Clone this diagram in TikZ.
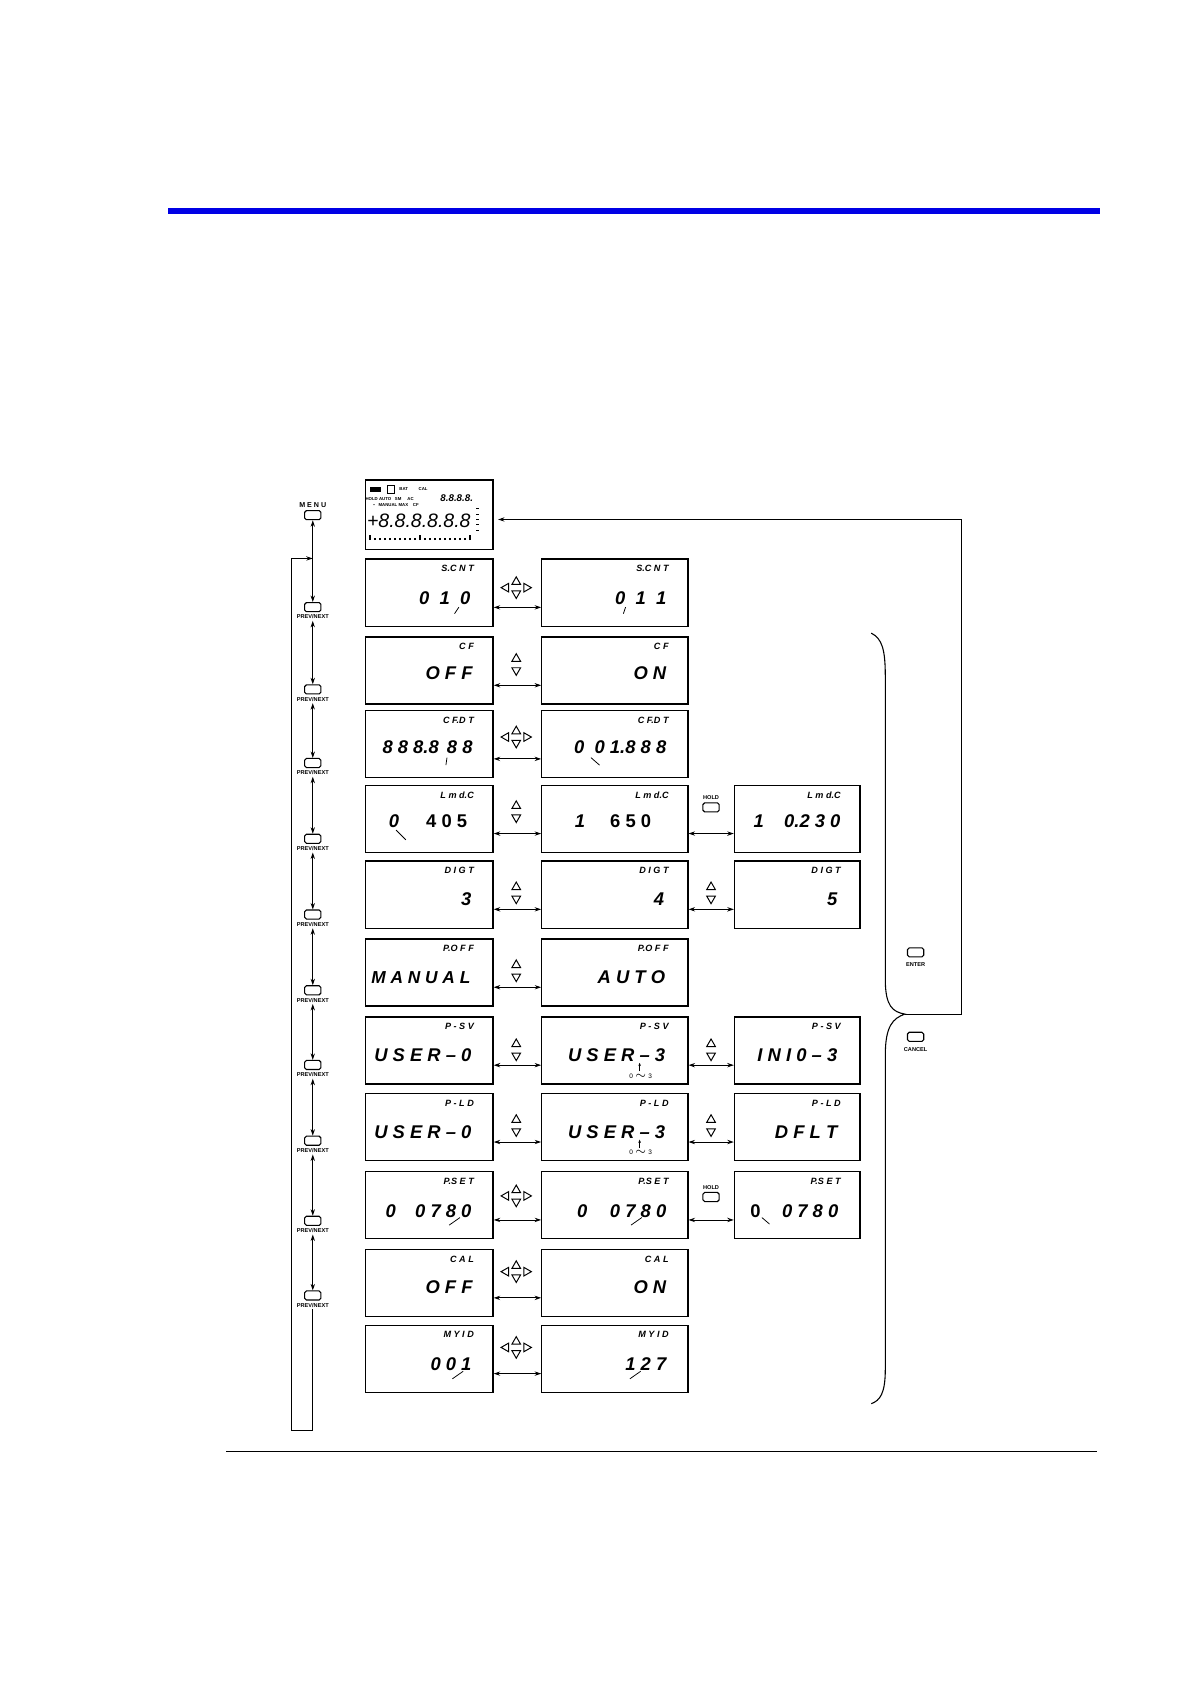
\documentclass[tikz,border=0pt]{standalone}
\usepackage{fontspec}
\setmainfont{Liberation Sans}
\usetikzlibrary{arrows.meta}
\tikzset{
  box/.style={draw,line width=0.6pt,anchor=north west,inner sep=0pt},
  ttl/.style={font=\fontsize{4.2}{5}\selectfont\bfseries\itshape,anchor=north east,inner sep=0pt},
  val/.style={font=\fontsize{8.5}{10}\selectfont\bfseries\itshape,anchor=base east,inner sep=0pt},
  vall/.style={font=\fontsize{8.5}{10}\selectfont\bfseries\itshape,anchor=base,inner sep=0pt},
  conn/.style={{Stealth[length=3pt,width=2pt]}-{Stealth[length=3pt,width=2pt]},line width=0.4pt},
  btn/.style={draw,rounded corners=0.8pt,minimum width=7.5pt,minimum height=4.2pt,inner sep=0pt,line width=0.5pt},
  blab/.style={font=\fontsize{2.6}{3}\selectfont\bfseries,inner sep=0pt},
  tri/.style={line width=0.45pt},
  cur/.style={line width=0.35pt}
}
\newcommand{\upd}[2]{\draw[tri] (#1-4,#2-3)--(#1+4,#2-3)--(#1,#2-10)--cycle; \draw[tri] (#1-4,#2+3)--(#1+4,#2+3)--(#1,#2+10)--cycle;}
\newcommand{\fourw}[2]{\upd{#1}{#2}\draw[tri] (#1-7,#2-4)--(#1-7,#2+4)--(#1-14,#2)--cycle; \draw[tri] (#1+7,#2-4)--(#1+7,#2+4)--(#1+14,#2)--cycle;}
\begin{document}
\begin{tikzpicture}[x=0.5pt,y=-0.5pt]
\useasboundingbox (0,0) rectangle (1100,1556);
\fill[blue!90!black] (155,192.5) rectangle (1016,197.5);
\draw[line width=0.6pt] (209,1341) -- (1014,1341);
% LCD
\node[box,minimum width=59pt,minimum height=32pt] (lcd) at (337,443) {};
\fill (342,450) rectangle (352,455); \draw[line width=0.3pt] (358,448) rectangle (364,456);
\node[blab,font=\fontsize{2}{2}\selectfont\bfseries] at (373,452) {BAT};
\node[blab,font=\fontsize{2}{2}\selectfont\bfseries] at (391,452) {CAL};
\node[blab,font=\fontsize{2}{2}\selectfont\bfseries] at (360,461) {HOLD AUTO~~~SM~~~~~AC};
\node[blab,font=\fontsize{2}{2}\selectfont\bfseries] at (366,467) {\textbullet~~~MANUAL MAX~~~~CF};
\node[font=\fontsize{4.5}{5}\selectfont\itshape\bfseries,inner sep=0pt] at (422,460) {8.8.8.8.};
\node[font=\fontsize{9}{9}\selectfont\itshape,inner sep=0pt] at (387,481) {+8.8.8.8.8.8};
\foreach \i in {0,...,20}{\draw[line width=0.8pt] (342+\i*4.6,499) -- (342+\i*4.6,{\i==0||\i==10||\i==20?494:497});}
\foreach \yy in {470,475,480,485,490}{\draw[line width=0.5pt] (440,\yy)--(443,\yy);}
% rows
\def\cA{337}\def\cB{500}\def\cC{678}
\newcommand{\brow}[3]{%
 \node[box,minimum width=59pt,minimum height=31pt] (#1a) at (\cA,#2) {};
 \node[box,minimum width=67.5pt,minimum height=31pt] (#1b) at (\cB,#2) {};
 \ifnum#3=1 \node[box,minimum width=58pt,minimum height=31pt] (#1c) at (\cC,#2) {};\fi}
\brow{r1}{516}{0}\brow{r2}{588}{0}\brow{r3}{656}{0}\brow{r4}{725}{1}\brow{r5}{795}{1}
\brow{r6}{867}{0}\brow{r7}{939}{1}\brow{r8}{1010}{1}\brow{r9}{1082}{1}\brow{r10}{1154}{0}\brow{r11}{1224}{0}
\foreach \r in {r1,r2,r3,r4,r5,r6,r7,r8,r9,r10,r11}{
  \draw[conn] ([yshift=9pt]\r a.south east) -- ([yshift=9pt]\r b.south west);}
\foreach \r in {r4,r5,r7,r8,r9}{
  \draw[conn] ([yshift=9pt]\r b.south east) -- ([yshift=9pt]\r c.south west);}
% symbols
\fourw{477}{543}\upd{477}{614}\fourw{477}{681}\upd{477}{750}\upd{477}{825}\upd{477}{897}\upd{477}{970}
\upd{477}{1040}\fourw{477}{1105}\fourw{477}{1175}\fourw{477}{1245}
\upd{657}{825}\upd{657}{970}\upd{657}{1040}
\node[btn] (hold1) at (657,746) {}; \node[blab] at (657,737) {HOLD};
\node[btn] (hold2) at (657,1106) {}; \node[blab] at (657,1097) {HOLD};
% titles
\foreach \r/\t in {r1/S.C N T,r2/C F,r3/C F.D T,r4/L m d.C,r5/D I G T,r6/P.O F F,r7/P - S V,r8/P - L D,r9/P.S E T,r10/C A L,r11/M Y I D}{
  \node[ttl] at ([xshift=-9pt,yshift=-3pt]\r a.north east) {\t};
  \node[ttl] at ([xshift=-9pt,yshift=-3pt]\r b.north east) {\t};}
\foreach \r/\t in {r4/L m d.C,r5/D I G T,r7/P - S V,r8/P - L D,r9/P.S E T}{
  \node[ttl] at ([xshift=-9pt,yshift=-3pt]\r c.north east) {\t};}
% values
\node[val] at (435,559) {0~~1~~0}; \node[val] at (616,559) {0~~1~~1};
\node[val] at (437,628) {O F F}; \node[val] at (616,628) {O N};
\node[val] at (437,696) {8 8 8.8 \,8 8}; \node[val] at (616,696) {0~ 0 1.8 8 8};
\node[vall] at (364,765) {0}; \node[val,font=\fontsize{8.5}{10}\selectfont\bfseries] at (432,765) {4 0 5};
\node[vall] at (536,765) {1}; \node[val,font=\fontsize{8.5}{10}\selectfont\bfseries] at (602,765) {6 5 0};
\node[vall] at (701,765) {1}; \node[val] at (777,765) {0.2 3 0};
\node[val] at (436,837) {3}; \node[val] at (614,837) {4}; \node[val] at (774,837) {5};
\node[val,font=\fontsize{8}{10}\selectfont\bfseries\itshape] at (435,909) {M A N U A L}; \node[val] at (615,909) {A U T O};
\node[val] at (436,981) {U S E R – 0}; \node[val] at (615,981) {U S E R – 3}; \node[val] at (774,981) {I N I 0 – 3};
\node[val] at (436,1052) {U S E R – 0}; \node[val] at (615,1052) {U S E R – 3}; \node[val] at (774,1052) {D F L T};
\node[vall] at (361,1125) {0}; \node[val] at (436,1125) {0 7 8 0};
\node[vall] at (538,1125) {0}; \node[val] at (616,1125) {0 7 8 0};
\node[vall,font=\fontsize{8.5}{10}\selectfont\bfseries] at (698,1125) {0}; \node[val] at (775,1125) {0 7 8 0};
\node[val] at (437,1195) {O F F}; \node[val] at (616,1195) {O N};
\node[val] at (436,1266) {0 0 1}; \node[val] at (616,1266) {1 2 7};
\foreach \yy in {994,1065}{\node[blab,font=\fontsize{3}{3}\selectfont] at (592,\yy) {0 $\sim$ 3};
  \draw[cur,-{Stealth[length=1.5pt,width=1.2pt]}] (591,\yy-4) -- (591,\yy-12);}
% cursors
\draw[cur] (420,567)--(424,561); \draw[cur] (576,567)--(578,561);
\draw[cur] (412,707)--(413,700); \draw[cur] (554,707)--(546,700);
\draw[cur] (375,776)--(366,767);
\draw[cur] (415,1132)--(425,1125); \draw[cur] (583,1132)--(593,1125); \draw[cur] (711,1131)--(704,1125);
\draw[cur] (418,1274)--(428,1267); \draw[cur] (582,1274)--(592,1267);
% left column
\node[btn] (m) at (289,476) {}; \node[blab,font=\fontsize{3.3}{3}\selectfont\bfseries] at (289,467) {M E N U};
\foreach \yy [count=\i] in {561,637,705,775,845,915,984,1054,1128,1197}{
  \node[btn] (p\i) at (289,\yy) {}; \node[blab] at (289,\yy+9) {PREV/NEXT};}
\draw[conn] (m.south) -- (p1.north);
\foreach \i [evaluate=\i as \j using int(\i+1)] in {1,...,9}{\draw[conn] ([yshift=-4pt]p\i.south) -- (p\j.north);}
\draw[line width=0.5pt,-{Stealth[length=3pt,width=2pt]}] ([yshift=-4pt]p10.south) -- (289,1322) -- (269,1322) -- (269,516) -- (289,516);
% right
\node[btn] (ent) at (846,880) {}; \node[blab] at (846,891) {ENTER};
\node[btn] (can) at (846,958) {}; \node[blab] at (846,970) {CANCEL};
\coordinate (bt) at (836,937);
\draw[line width=0.5pt,-{Stealth[length=3pt,width=2pt]}] (bt) -- (888,937) -- (888,480) -- ([xshift=2pt]lcd.east |- 0,480);
\draw[line width=0.5pt] (805,585) .. controls (815,590) and (818,600) .. (818,625) -- (818,905) .. controls (818,930) and (825,935) .. (bt) .. controls (825,941) and (818,948) .. (818,975) -- (818,1265) .. controls (818,1288) and (813,1294) .. (805,1297);
\end{tikzpicture}
\end{document}
